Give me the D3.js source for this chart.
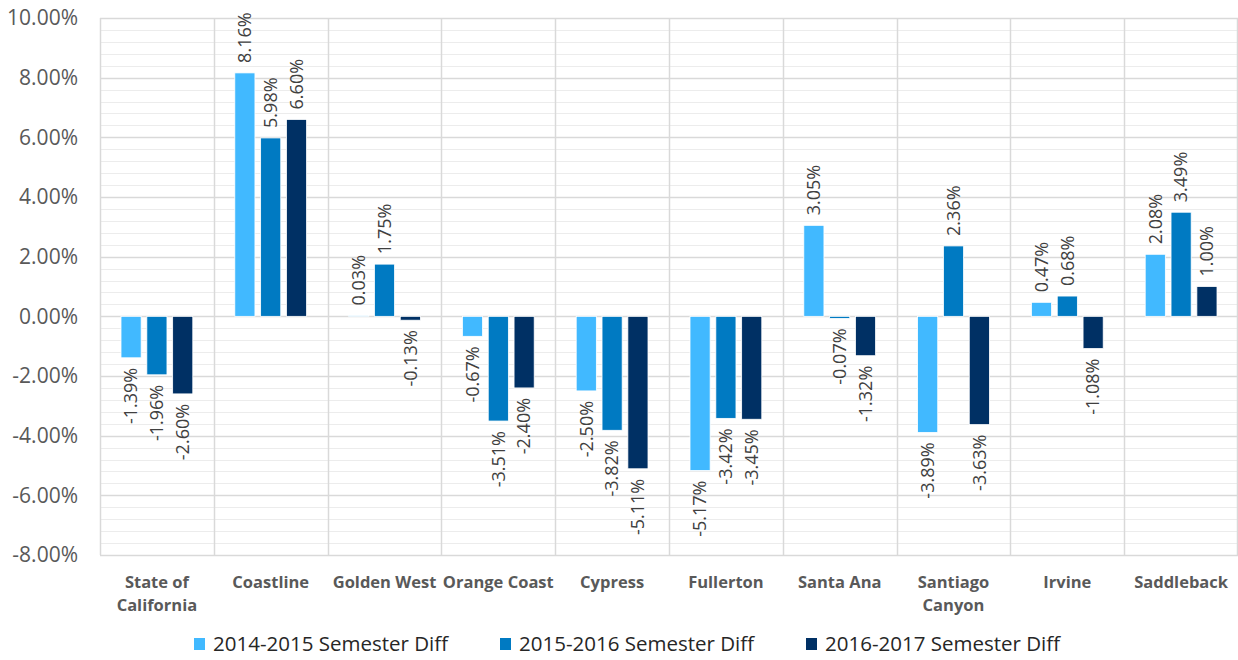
<!DOCTYPE html>
<html>
<head>
<meta charset="utf-8">
<script src="https://cdn.jsdelivr.net/npm/d3@7"></script>
<style>
  body { margin: 0; background: #fff; }
  svg { display: block; }
</style>
</head>
<body>
<div id="chart"></div>
<script>
// chart data
var categories = ["State of California", "Coastline", "Golden West", "Orange Coast", "Cypress",
    "Fullerton", "Santa Ana", "Santiago Canyon", "Irvine", "Saddleback"];
var seriesNames = ["2014-2015 Semester Diff", "2015-2016 Semester Diff", "2016-2017 Semester Diff"];
var diff1415 = [-1.39, 8.16, 0.03, -0.67, -2.50, -5.17, 3.05, -3.89, 0.47, 2.08];
var diff1516 = [-1.96, 5.98, 1.75, -3.51, -3.82, -3.42, -0.07, 2.36, 0.68, 3.49];
var diff1617 = [-2.60, 6.60, -0.13, -2.40, -5.11, -3.45, -1.32, -3.63, -1.08, 1.00];
var yTicks = [-8, -6, -4, -2, 0, 2, 4, 6, 8, 10];
var colors = ["#41b9ff", "#007ac2", "#003064"];

var W = 1238, H = 660;
var m = { left: 100, right: 1238, top: 18, bottom: 555 };

var svg = d3.select("#chart").append("svg")
    .attr("width", W).attr("height", H);

var x = d3.scaleBand().domain(categories).range([m.left, m.right]).padding(0);
var xs = d3.scaleBand().domain([0, 1, 2]).range([21, x.bandwidth() - 21]).paddingInner(0.22);
var y = d3.scaleLinear().domain([-8, 10]).range([m.bottom, m.top]);

// minor gridlines
var minor = d3.range(-8, 10.001, 0.4).filter(function(v) { return Math.abs(v / 2 - Math.round(v / 2)) > 0.01; });
svg.append("g").selectAll("line").data(minor).join("line")
    .attr("x1", m.left).attr("x2", m.right)
    .attr("y1", function(d) { return Math.round(y(d)) + 0.5; })
    .attr("y2", function(d) { return Math.round(y(d)) + 0.5; })
    .attr("stroke", "#ececec").attr("stroke-width", 1);

// major gridlines
svg.append("g").selectAll("line").data(yTicks).join("line")
    .attr("x1", m.left).attr("x2", m.right)
    .attr("y1", function(d) { return Math.round(y(d)) + 0.5; })
    .attr("y2", function(d) { return Math.round(y(d)) + 0.5; })
    .attr("stroke", "#d9d9d9").attr("stroke-width", 1.5);

// category separators
var bounds = categories.map(function(c) { return x(c); }).concat([m.right - 1]);
svg.append("g").selectAll("line").data(bounds).join("line")
    .attr("x1", function(d) { return Math.round(d) + 0.5; })
    .attr("x2", function(d) { return Math.round(d) + 0.5; })
    .attr("y1", m.top).attr("y2", m.bottom)
    .attr("stroke", "#d9d9d9").attr("stroke-width", 1.5);

// y axis labels
var yAxis = d3.axisLeft(y).tickValues(yTicks).tickSize(0).tickPadding(22)
    .tickFormat(function(d) { return d.toFixed(2) + "%"; });
var ya = svg.append("g").attr("transform", "translate(" + m.left + ",0)").call(yAxis);
ya.select(".domain").remove();
ya.selectAll("text")
    .attr("fill", "#595959")
    .style("font-family", "'Open Sans', sans-serif")
    .style("font-size", "21px");

// bars
var rows = [];
categories.forEach(function(c, i) {
    [diff1415, diff1516, diff1617].forEach(function(s, k) {
        rows.push({ cat: c, k: k, v: s[i] });
    });
});

var g = svg.append("g");
g.selectAll("rect").data(rows).join("rect")
    .attr("x", function(d) { return x(d.cat) + xs(d.k); })
    .attr("width", xs.bandwidth())
    .attr("y", function(d) { return Math.min(y(d.v), y(0)); })
    .attr("height", function(d) { return Math.abs(y(d.v) - y(0)); })
    .attr("fill", function(d) { return colors[d.k]; })
    .attr("stroke", "#ffffff").attr("stroke-width", 0.8);

// data labels, rotated
g.selectAll("text").data(rows).join("text")
    .attr("transform", function(d) {
        var cx = x(d.cat) + xs(d.k) + xs.bandwidth() / 2;
        var cy = d.v >= 0 ? y(d.v) - 10 : y(d.v) + 10;
        return "translate(" + cx + "," + cy + ") rotate(-90)";
    })
    .attr("text-anchor", function(d) { return d.v >= 0 ? "start" : "end"; })
    .attr("dy", "0.35em")
    .attr("fill", "#404040")
    .style("font-family", "'Open Sans', sans-serif")
    .style("font-size", "18px")
    .text(function(d) { return d.v.toFixed(2) + "%"; });

// category labels
var catG = svg.append("g");
categories.forEach(function(c) {
    var lines = [c];
    if (c === "State of California") lines = ["State of", "California"];
    if (c === "Santiago Canyon") lines = ["Santiago", "Canyon"];
    var t = catG.append("text")
        .attr("x", x(c) + x.bandwidth() / 2)
        .attr("y", 588)
        .attr("text-anchor", "middle")
        .attr("fill", "#595959")
        .style("font-family", "'Open Sans', sans-serif")
        .style("font-weight", "bold")
        .style("font-size", "16.5px");
    lines.forEach(function(l, i) {
        t.append("tspan").attr("x", x(c) + x.bandwidth() / 2)
            .attr("dy", i === 0 ? 0 : 23).text(l);
    });
});

// legend
var legX = [194, 500, 806];
var leg = svg.append("g").selectAll("g").data(seriesNames).join("g")
    .attr("transform", function(d, i) { return "translate(" + legX[i] + ",644)"; });
leg.append("rect").attr("x", 0).attr("y", -6).attr("width", 11).attr("height", 12)
    .attr("fill", function(d, i) { return colors[i]; });
leg.append("text").attr("x", 19).attr("dy", "0.35em")
    .attr("fill", "#262626")
    .style("font-family", "'Open Sans', sans-serif")
    .style("font-size", "20.5px")
    .text(function(d) { return d; });
</script>
</body>
</html>
